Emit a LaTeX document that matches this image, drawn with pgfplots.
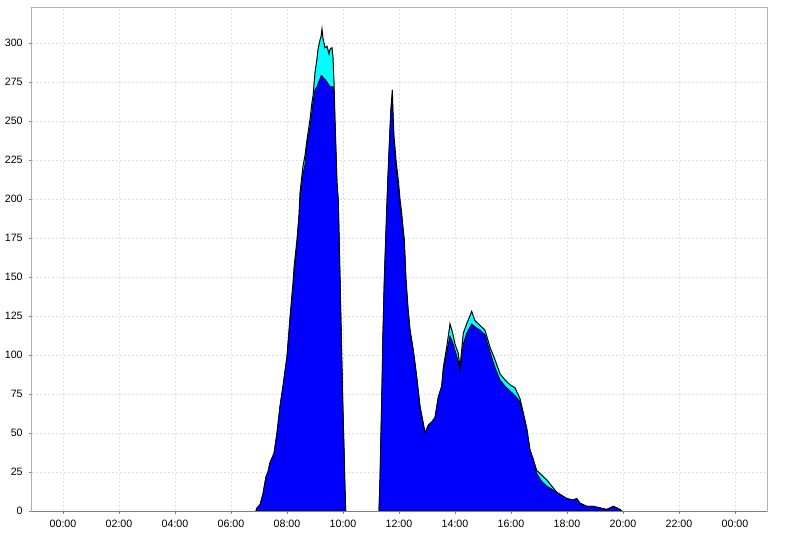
\documentclass[border=0pt]{standalone}
\usepackage{pgfplots}
\pgfplotsset{compat=1.18}
\usepackage{pgfplotstable}
\usepackage{fontspec}
\setmainfont{Liberation Sans}
\definecolor{axdark}{HTML}{808080}
\definecolor{axlight}{HTML}{B4B4B4}
\definecolor{gridc}{HTML}{DEDEDE}
\definecolor{fblue}{HTML}{0000FF}
\definecolor{fcyan}{HTML}{00FFFF}

% h  total  blue
\pgfplotstableread{
h total blue
6.893 0 0
6.929 2 2
7.036 4 4
7.143 11 11
7.250 22 22
7.321 25 25
7.393 31 31
7.536 37 37
7.643 50 50
7.750 67 67
7.857 80 80
8.000 99 99
8.107 124 122
8.214 146 144
8.250 156 150
8.357 174 172
8.429 190 188
8.464 204 200
8.571 221 216
8.643 228 222
8.714 238 235
8.821 251 246
8.893 262 256
8.929 266 262
9.000 281 270
9.071 290 272
9.107 296 274
9.179 302 277
9.214 304 279
9.250 309 279
9.286 303 278
9.321 300 277
9.357 297 277
9.429 298 275
9.500 293 273
9.536 296 272
9.607 297 272
9.643 291 272
9.679 275 270
9.714 250 250
9.786 210 210
9.832 199 199
9.893 150 150
9.946 106 106
9.989 71 71
10.036 40 40
10.071 14 14
10.096 0 0
}\morning

\pgfplotstableread{
h total blue
11.286 0 0
11.321 20 20
11.357 50 50
11.393 80 80
11.429 115 115
11.475 148 148
11.536 180 180
11.607 215 215
11.643 230 230
11.679 245 245
11.714 258 258
11.761 270 266
11.786 255 252
11.821 240 236
11.857 233 229
11.893 225 221
11.975 212 208
12.036 200 196
12.096 191 188
12.143 182 180
12.189 174 172
12.250 148 148
12.321 130 130
12.393 116 116
12.511 103 103
12.632 86 86
12.750 67 67
12.868 56 56
12.929 50 50
13.046 55 55
13.168 57 57
13.286 60 60
13.404 73 73
13.525 80 80
13.582 92 90
13.704 105 102
13.821 120 112
13.918 114 108
14.000 107 103
14.118 101 96
14.179 92 90
14.296 114 107
14.418 120 114
14.596 128 120
14.714 122 118
14.893 119 116
15.071 116 113
15.250 105 102
15.429 97 92
15.607 88 84
15.786 84 80
15.964 81 77
16.143 79 74
16.321 72 70
16.439 63 62
16.561 53 53
16.679 39 39
16.796 33 33
16.918 26 24
17.096 23 19
17.275 20 16
17.454 16 14
17.632 12 12
17.811 10 10
17.989 8 8
18.225 7 7
18.346 8 8
18.464 5 5
18.704 3 3
18.939 3 3
19.179 2 2
19.418 1 1
19.654 3 3
19.893 1 1
19.954 0 0
}\afternoon

\begin{document}
\begin{tikzpicture}
\begin{axis}[
  scale only axis,
  width=551.25pt, height=378pt,
  xmin=-1.107, xmax=25.143,
  ymin=0, ymax=323.1,
  xtick={0,2,4,6,8,10,12,14,16,18,20,22,24},
  xticklabels={00:00,02:00,04:00,06:00,08:00,10:00,12:00,14:00,16:00,18:00,20:00,22:00,00:00},
  ytick={0,25,50,75,100,125,150,175,200,225,250,275,300},
  tick pos=left,
  tick align=outside,
  major tick length=2pt,
  every tick/.style={axdark, line width=0.6pt},
  tick label style={font=\fontsize{8}{9.5}\selectfont, text=black},
  /pgf/number format/assume math mode=true,
  yticklabel style={xshift=-1.5pt},
  xticklabel style={yshift=-1.5pt},
  grid=major,
  major grid style={gridc, dash pattern=on 1.5pt off 1.5pt, line width=0.6pt},
  axis line style={axlight, line width=0.75pt},
  clip=true,
]
\addplot[fill=fcyan, draw=black, line width=0.75pt] table[x=h, y=total] {\morning} \closedcycle;
\addplot[fill=fblue, draw=black, line width=0.6pt] table[x=h, y=blue] {\morning} \closedcycle;
\addplot[fill=fcyan, draw=black, line width=0.75pt] table[x=h, y=total] {\afternoon} \closedcycle;
\addplot[fill=fblue, draw=black, line width=0.6pt] table[x=h, y=blue] {\afternoon} \closedcycle;
\draw[axdark, line width=0.75pt] (rel axis cs:0,1) -- (rel axis cs:0,0) -- (rel axis cs:1,0);
\coordinate (sw) at (rel axis cs:0,0);
\coordinate (ne) at (rel axis cs:1,1);
\end{axis}
\path ([shift={(-24pt,-17.25pt)}]sw) rectangle ([shift={(13.5pt,5.25pt)}]ne);
\end{tikzpicture}
\end{document}
